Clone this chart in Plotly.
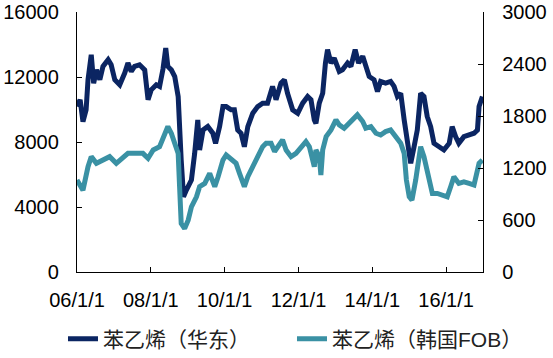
import plotly.graph_objects as go

# 苯乙烯（华东） — 元/吨, left axis
east_dates = [
    "2006-01-01", "2006-02-01", "2006-03-01", "2006-04-01", "2006-04-20", "2006-05-22",
    "2006-06-15", "2006-07-12", "2006-08-15", "2006-09-15", "2006-11-05", "2006-12-05",
    "2007-01-10", "2007-02-28", "2007-04-18", "2007-05-20", "2007-06-22", "2007-07-25",
    "2007-09-12", "2007-11-02", "2007-12-05", "2008-01-06", "2008-02-25", "2008-03-28",
    "2008-05-01", "2008-05-28", "2008-06-18", "2008-07-22", "2008-08-25", "2008-09-28",
    "2008-10-28", "2008-11-20", "2008-12-18", "2009-02-06", "2009-03-10", "2009-04-10",
    "2009-04-28", "2009-06-01", "2009-07-18", "2009-09-06", "2009-10-03", "2009-11-12",
    "2009-12-15", "2010-01-16", "2010-03-06", "2010-04-07", "2010-05-10", "2010-06-12",
    "2010-07-15", "2010-08-18", "2010-10-06", "2010-11-24", "2011-01-12", "2011-03-01",
    "2011-04-20", "2011-05-24", "2011-07-12", "2011-08-15", "2011-09-15", "2011-11-05",
    "2011-12-25", "2012-02-12", "2012-04-01", "2012-05-04", "2012-06-06", "2012-06-22",
    "2012-07-25", "2012-08-28", "2012-09-24", "2012-10-15", "2012-11-18", "2012-12-20",
    "2013-02-08", "2013-03-12", "2013-05-01", "2013-06-03", "2013-07-15", "2013-08-18",
    "2013-09-28", "2013-10-28", "2013-12-01", "2014-01-18", "2014-02-21", "2014-03-24",
    "2014-05-12", "2014-07-01", "2014-08-04", "2014-09-06", "2014-10-09", "2014-11-12",
    "2014-12-15", "2015-01-16", "2015-02-18", "2015-03-22", "2015-04-24", "2015-05-27",
    "2015-06-28", "2015-08-01", "2015-09-03", "2015-10-22", "2015-12-10", "2016-02-01",
    "2016-03-01", "2016-04-04", "2016-05-06", "2016-06-25", "2016-08-15", "2016-10-03",
    "2016-11-06", "2016-11-22", "2016-12-25",
]
east_values = [
    10180, 10600, 9250, 9980, 11830, 13370,
    11620, 12440, 11830, 12650, 13060, 12750,
    11830, 11520, 12240, 12860, 12340, 12650,
    12750, 12440, 10600, 11210, 11520, 11420,
    12500, 13780, 12650, 12440, 12030, 10800,
    6890, 4630, 5040, 5660, 7300, 9360,
    7510, 8740, 8950, 8540, 7920, 8950,
    10180, 10180, 9980, 9980, 8740, 8540,
    7710, 8950, 9770, 10180, 10390, 10390,
    11420, 10600, 11620, 11830, 11000, 9980,
    9770, 10390, 10800, 10600, 9360, 9150,
    10390, 11000, 12860, 13680, 12860, 13160,
    12340, 12440, 12860, 12650, 13680, 12860,
    13270, 12550, 12030, 11830, 11110, 11730,
    11620, 11730, 11420, 10800, 11000, 9360,
    7710, 6690, 7710, 8740, 11000, 10800,
    9570, 8950, 7920, 7710, 7510, 7920,
    8950, 8330, 7920, 8330, 8430, 8540,
    8740, 10180, 10800,
]

# 苯乙烯（韩国FOB） — 美元/吨, right axis
korea_dates = [
    "2006-01-01", "2006-03-01", "2006-04-20", "2006-05-22", "2006-07-12", "2006-09-15",
    "2006-11-20", "2007-01-25", "2007-04-01", "2007-05-20", "2007-08-10", "2007-10-15",
    "2007-12-05", "2008-01-25", "2008-03-28", "2008-05-15", "2008-06-18", "2008-07-22",
    "2008-08-25", "2008-09-28", "2008-10-12", "2008-10-28", "2008-12-01", "2009-01-05",
    "2009-02-06", "2009-03-28", "2009-04-28", "2009-06-18", "2009-08-06", "2009-09-25",
    "2009-10-28", "2009-12-15", "2010-01-16", "2010-03-06", "2010-04-24", "2010-05-28",
    "2010-07-15", "2010-08-18", "2010-10-06", "2010-11-24", "2011-01-12", "2011-02-15",
    "2011-04-05", "2011-05-10", "2011-06-10", "2011-07-28", "2011-09-01", "2011-10-20",
    "2011-12-08", "2012-01-28", "2012-03-15", "2012-04-18", "2012-05-20", "2012-06-06",
    "2012-06-22", "2012-07-25", "2012-08-10", "2012-08-28", "2012-10-01", "2012-11-18",
    "2013-01-06", "2013-02-08", "2013-03-28", "2013-05-15", "2013-07-06", "2013-08-06",
    "2013-09-28", "2013-10-28", "2013-12-18", "2014-02-06", "2014-03-24", "2014-05-12",
    "2014-07-01", "2014-08-20", "2014-10-09", "2014-11-12", "2014-12-04", "2015-01-01",
    "2015-01-28", "2015-03-06", "2015-04-24", "2015-05-27", "2015-07-15", "2015-08-18",
    "2015-10-06", "2015-11-25", "2016-01-12", "2016-02-15", "2016-03-18", "2016-05-06",
    "2016-06-25", "2016-08-15", "2016-10-03", "2016-11-22", "2016-12-25",
]
korea_values = [
    1061, 945, 1215, 1331, 1254, 1292,
    1331, 1254, 1331, 1369, 1369, 1369,
    1311, 1408, 1446, 1601, 1678, 1601,
    1485, 1369, 984, 559, 501, 598,
    752, 868, 984, 1022, 1138, 984,
    1099, 1292, 1350, 1292, 1254, 1138,
    984, 1099, 1215, 1331, 1446, 1485,
    1485, 1390, 1446, 1524, 1408, 1331,
    1369, 1446, 1504, 1446, 1292, 1215,
    1408, 1331, 1119, 1408, 1562, 1639,
    1755, 1697, 1659, 1716, 1774, 1813,
    1736, 1659, 1678, 1601, 1581, 1620,
    1639, 1562, 1485, 1369, 1061, 868,
    829, 1061, 1446, 1331, 1099, 906,
    906, 887, 868, 984, 1099, 1022,
    1041, 1022, 1003, 1254, 1292,
]

tick_dates = ["2006-01-01", "2008-01-01", "2010-01-01", "2012-01-01", "2014-01-01", "2016-01-01"]
tick_labels = ["06/1/1", "08/1/1", "10/1/1", "12/1/1", "14/1/1", "16/1/1"]
series_names = ["苯乙烯（华东）", "苯乙烯（韩国FOB）"]

NAVY = "#0B2562"
TEAL = "#3A91A4"
FONT = "Liberation Sans, Arial, Noto Sans CJK SC, sans-serif"
TICK_SIZE = 20
LEGEND_SIZE = 21

fig = go.Figure()
fig.add_trace(go.Scatter(x=east_dates, y=east_values, name=series_names[0], mode="lines",
                         line=dict(color=NAVY, width=5)))
fig.add_trace(go.Scatter(x=korea_dates, y=korea_values, name=series_names[1], mode="lines",
                         line=dict(color=TEAL, width=5), yaxis="y2"))

axis_common = dict(showline=True, linecolor="black", linewidth=1.3, ticks="inside",
                   ticklen=5, tickcolor="black", tickwidth=1.3, showgrid=False,
                   zeroline=False, automargin=False, ticklabeloverflow="allow",
                   tickfont=dict(size=TICK_SIZE, color="black", family=FONT))

fig.update_layout(
    width=553, height=358,
    margin=dict(l=77, r=70, t=12, b=86, autoexpand=False),
    paper_bgcolor="white", plot_bgcolor="white",
    font=dict(family=FONT, size=TICK_SIZE, color="black"),
    xaxis=dict(type="date", range=["2006-01-01", "2016-12-31"],
               tickmode="array", tickvals=tick_dates, ticktext=tick_labels,
               ticklabelstandoff=10, **axis_common),
    yaxis=dict(range=[0, 16000], tickmode="linear", tick0=0, dtick=4000,
               tickformat="d", ticklabelstandoff=13, **axis_common),
    yaxis2=dict(range=[0, 3000], tickmode="linear", tick0=0, dtick=600,
                tickformat="d", overlaying="y", side="right",
                ticklabelstandoff=14, **axis_common),
    showlegend=True,
    legend=dict(orientation="h", x=-0.0345, xanchor="left",
                y=-0.258, yanchor="middle",
                font=dict(size=LEGEND_SIZE, family=FONT, color="#222222"),
                entrywidth=184, entrywidthmode="pixels",
                tracegroupgap=0, bgcolor="rgba(0,0,0,0)"),
)

fig.write_html("out.html", config={"displayModeBar": False},
               post_script="document.body.style.margin='0';")
